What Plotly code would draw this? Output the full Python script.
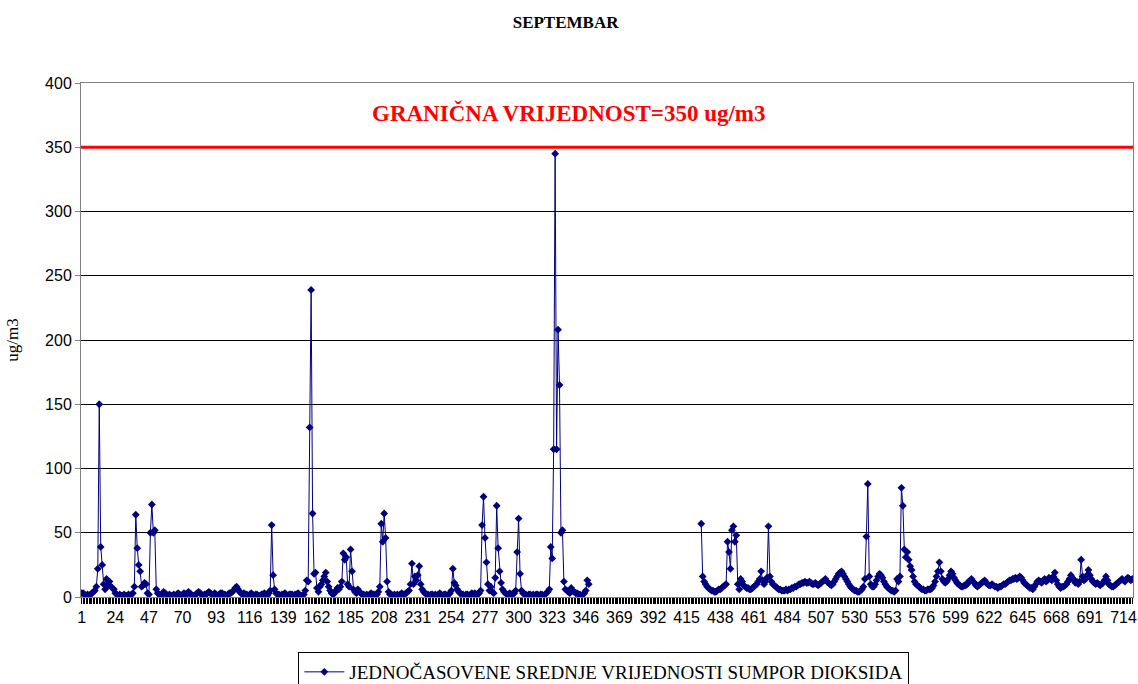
import plotly.graph_objects as go

# ── Data: hourly SO2 means for September (1 row = 1 day, 24 hours) ──────────
N = None
day_rows = [
    [3, 3, 2, 1, 2, 1, 2, 3, 4, 5, 8, 22, 150, 39, 25, 10, 6, 14, 9, 12, 8, 7, 6, 3],
    [2, 1, 2, 1, 1, 2, 1, 1, 2, 1, 2, 3, 8, 64, 38, 25, 20, 8, 9, 11, 10, 3, 2, 50],
    [72, 50, 52, 6, 3, 2, 1, 2, 4, 3, 2, 1, 2, 1, 1, 2, 1, 2, 3, 2, 1, 2, 3, 2],
    [2, 4, 3, 2, 1, 1, 2, 3, 4, 3, 2, 1, 2, 2, 3, 4, 3, 2, 2, 3, 2, 1, 2, 3],
    [3, 2, 2, 1, 2, 3, 3, 4, 5, 7, 8, 6, 4, 3, 2, 3, 2, 2, 1, 2, 3, 2, 1, 2],
    [2, 1, 1, 2, 2, 3, 2, 1, 3, 5, 56, 17, 6, 3, 2, 2, 1, 2, 2, 3, 2, 1, 2, 2],
    [2, 1, 2, 2, 3, 2, 1, 1, 2, 5, 13, 12, 132, 239, 65, 18, 19, 7, 4, 8, 10, 13, 16, 19],
    [12, 8, 5, 3, 2, 3, 5, 7, 6, 8, 12, 34, 29, 31, 10, 8, 37, 20, 6, 4, 3, 6, 4, 3],
    [2, 2, 1, 2, 1, 2, 3, 2, 2, 1, 2, 4, 8, 57, 43, 65, 46, 12, 4, 2, 2, 1, 2, 1],
    [2, 1, 2, 3, 2, 2, 3, 4, 5, 10, 26, 10, 16, 13, 17, 24, 10, 6, 4, 3, 2, 2, 1, 2],
    [2, 1, 2, 1, 2, 3, 2, 1, 2, 2, 1, 2, 3, 5, 22, 11, 9, 6, 4, 3, 2, 2, 1, 2],
    [2, 1, 2, 3, 2, 3, 2, 2, 3, 5, 56, 78, 46, 27, 10, 5, 8, 4, 3, 15, 71, 38, 20, 11],
    [6, 4, 3, 2, 2, 3, 2, 2, 3, 5, 35, 61, 18, 5, 3, 2, 2, 1, 2, 2, 1, 2, 1, 2],
    [2, 1, 2, 2, 1, 2, 3, 4, 6, 39, 30, 115, 345, 115, 208, 165, 50, 52, 12, 6, 5, 4, 3, 7],
    [5, 4, 3, 3, 2, 2, 1, 2, 3, 5, 13, 10, N, N, N, N, N, N, N, N, N, N, N, N],
    [N, N, N, N, N, N, N, N, N, N, N, N, N, N, N, N, N, N, N, N, N, N, N, N],
    [N, N, N, N, N, N, N, N, N, N, N, N, N, N, N, N, N, N, N, N, N, N, N, N],
    [N, N, N, N, N, N, N, N, N, N, N, N, N, N, N, N, 57, 16, 12, 10, 8, 7, 6, 5],
    [5, 4, 4, 5, 6, 6, 7, 8, 9, 10, 43, 35, 22, 52, 55, 43, 48, 10, 6, 14, 12, 9, 8, 7],
    [7, 6, 6, 7, 8, 9, 10, 12, 14, 20, 13, 10, 12, 15, 55, 16, 12, 10, 9, 8, 7, 6, 6, 5],
    [5, 5, 6, 5, 6, 6, 7, 7, 8, 8, 9, 10, 10, 11, 11, 12, 11, 11, 12, 11, 10, 10, 11, 10],
    [9, 10, 11, 12, 13, 14, 12, 11, 10, 9, 10, 12, 14, 16, 18, 19, 20, 18, 16, 14, 12, 10, 8, 7],
    [6, 5, 5, 4, 4, 5, 6, 8, 14, 47, 88, 16, 10, 8, 8, 10, 13, 16, 18, 17, 15, 12, 10, 8],
    [7, 6, 5, 5, 4, 5, 14, 12, 16, 85, 71, 37, 31, 35, 29, 24, 21, 16, 12, 10, 9, 8, 7, 6],
    [6, 5, 5, 6, 6, 6, 7, 9, 12, 16, 20, 27, 20, 14, 12, 11, 12, 14, 17, 20, 18, 15, 13, 11],
    [10, 9, 8, 8, 9, 9, 10, 12, 13, 14, 12, 11, 9, 8, 9, 10, 11, 12, 13, 11, 10, 9, 9, 10],
    [9, 8, 8, 7, 8, 8, 9, 10, 10, 11, 12, 13, 13, 14, 14, 15, 14, 15, 16, 15, 13, 11, 10, 9],
    [8, 7, 7, 6, 8, 10, 12, 13, 12, 11, 13, 14, 12, 13, 15, 14, 13, 16, 19, 13, 10, 8, 7, 8],
    [8, 9, 10, 12, 14, 17, 15, 13, 11, 12, 10, 12, 29, 16, 13, 14, 17, 21, 17, 14, 12, 11, 10, 11],
    [10, 9, 10, 11, 13, 16, 13, 10, 9, 8, 8, 9, 10, 11, 12, 13, 14, 13, 12, 14, 15, 14, 13, 14],
]
so2_values = [v for row in day_rows for v in row]
hours = list(range(1, len(so2_values) + 1))

LABEL_STEP = 23  # x labels: 1, 24, 47, ... 714
# one tick per hour, a label on every 23rd one
x_tick_text = [str(h) if (h - 1) % LABEL_STEP == 0 else "" for h in hours]

LIMIT = 350
TITLE = "SEPTEMBAR"
LIMIT_TEXT = "GRANIČNA VRIJEDNOST=350 ug/m3"
SERIES_NAME = "JEDNOČASOVENE SREDNJE VRIJEDNOSTI SUMPOR DIOKSIDA"

SERIF = "'Liberation Serif', 'Times New Roman', serif"
SANS = "'Liberation Sans', Arial, sans-serif"
NAVY = "#000080"

fig = go.Figure()

fig.add_trace(go.Scatter(
    x=hours,
    y=so2_values,
    mode="lines+markers",
    name=SERIES_NAME,
    line=dict(color=NAVY, width=1),
    marker=dict(symbol="diamond", size=6, color=NAVY),
    connectgaps=False,
))

# limit line
fig.add_shape(
    type="line", xref="paper", yref="y",
    x0=0, x1=1, y0=LIMIT, y1=LIMIT,
    line=dict(color="#ff0000", width=3),
)
fig.add_annotation(
    text=f"<b>{LIMIT_TEXT}</b>",
    xref="paper", yref="y", x=0.464, y=377,
    showarrow=False,
    font=dict(family=SERIF, size=23, color="#ff0000"),
)

fig.update_layout(
    width=1138,
    height=684,
    paper_bgcolor="#ffffff",
    plot_bgcolor="#ffffff",
    margin=dict(l=81, r=5, t=83, b=87, autoexpand=False),
    title=dict(
        text=f"<b>{TITLE}</b>",
        x=0.497, xanchor="center",
        y=1 - 22 / 684, yanchor="middle",
        font=dict(family=SERIF, size=17, color="#000000"),
    ),
    showlegend=True,
    legend=dict(
        orientation="h",
        x=0.497, xanchor="center",
        y=-0.107, yanchor="top",
        bordercolor="#000000",
        borderwidth=1,
        font=dict(family=SERIF, size=19, color="#000000"),
        itemwidth=40,
    ),
    xaxis=dict(
        range=[0.5, len(hours) + 0.5],
        tickmode="array",
        tickvals=hours,
        ticktext=x_tick_text,
        ticks="outside",
        ticklen=6,
        tickwidth=1,
        tickcolor="#000000",
        tickangle=0,
        tickfont=dict(family=SANS, size=16, color="#000000"),
        showgrid=False,
        zeroline=False,
        showline=True,
        linecolor="#808080",
        mirror=True,
        automargin=False,
    ),
    yaxis=dict(
        range=[0, 400],
        dtick=50,
        ticks="outside",
        ticklen=5,
        tickcolor="#808080",
        tickfont=dict(family=SANS, size=16, color="#000000"),
        showgrid=True,
        gridcolor="#000000",
        gridwidth=1,
        zeroline=False,
        showline=True,
        linecolor="#808080",
        mirror=True,
        automargin=False,
        title=dict(text="ug/m3", standoff=22,
                   font=dict(family=SERIF, size=17, color="#000000")),
    ),
)

# drop the default page margin so the figure sits at the window's corner
fig.write_html(
    "out.html",
    config={"displayModeBar": False},
    post_script="document.body.style.margin = '0';",
)
